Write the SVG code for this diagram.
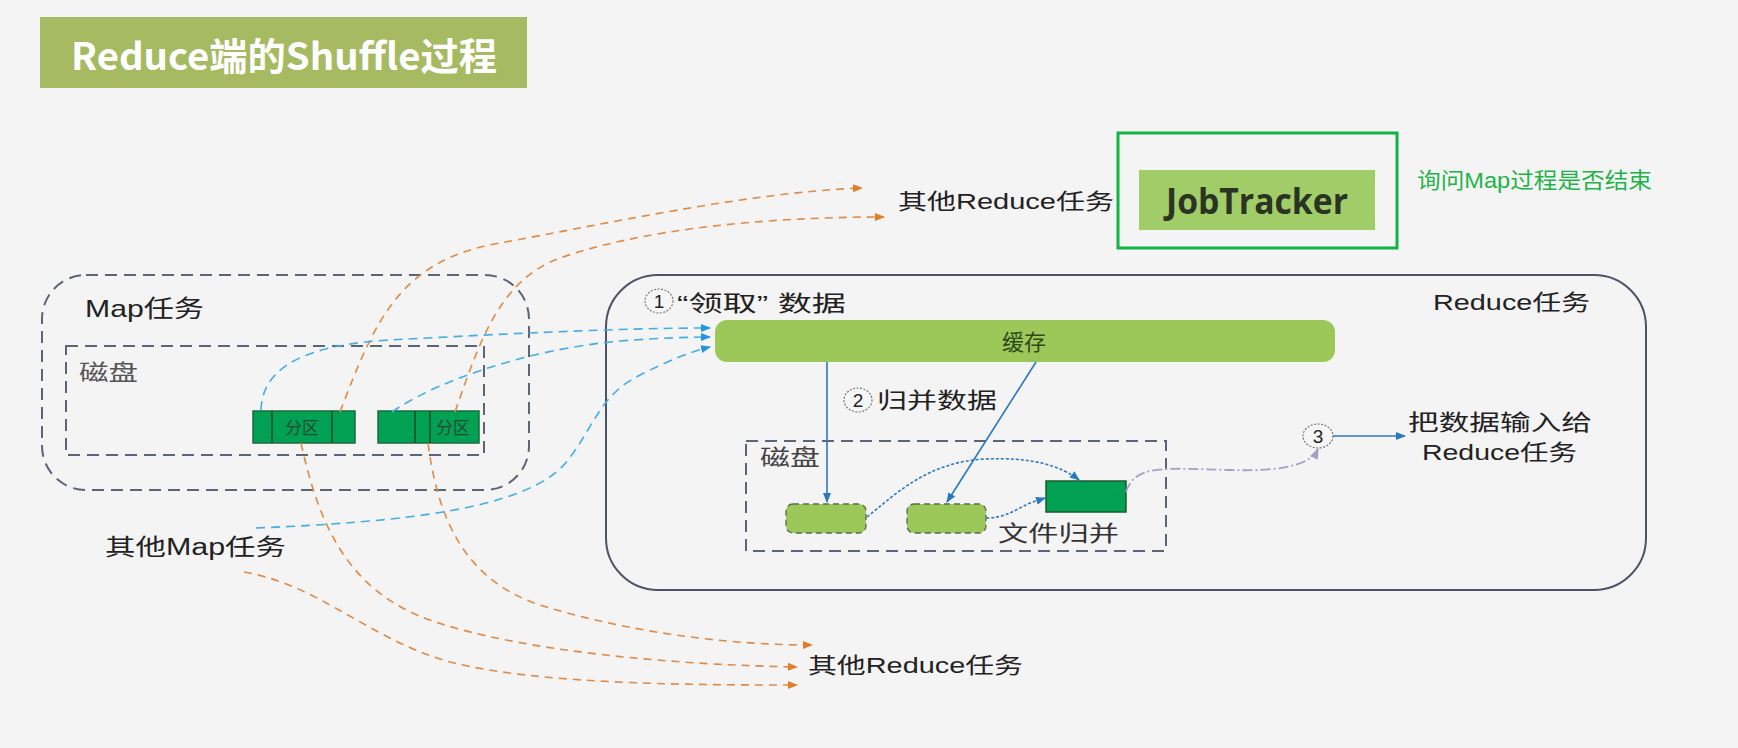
<svg xmlns="http://www.w3.org/2000/svg" width="1738" height="748" viewBox="0 0 1738 748">
<style>
text{font-family:"Liberation Sans","Noto Sans CJK SC",sans-serif;fill:#222;dominant-baseline:central}
.lbl{font-size:22px}
.dash{fill:none;stroke:#5c6478;stroke-width:2;stroke-dasharray:12 7}
.part{fill:#00a152;stroke:#1d6a3c;stroke-width:1.5}
.div{stroke:#1d4a2c;stroke-width:1.5}
.lg{fill:#9cc85a;stroke:#5a6a50;stroke-width:1.3;stroke-dasharray:6 4}
.orange{fill:none;stroke:#e08a45;stroke-width:1.6;stroke-dasharray:8 6}
.blue{fill:none;stroke:#42aee6;stroke-width:1.6;stroke-dasharray:9 6}
.solid{fill:none;stroke:#2a78c2;stroke-width:1.6}
.dot{fill:none;stroke:#2a78c2;stroke-width:1.6;stroke-dasharray:3 2}
.lav{fill:none;stroke:#a89ec8;stroke-width:1.8;stroke-dasharray:10 3 2 3}
.num{fill:#f6f6f6;stroke:#777;stroke-width:1.2;stroke-dasharray:2 1.5}
.numt{font-size:19px;text-anchor:middle}
</style>
<defs>
<marker id="ao" viewBox="0 0 10 10" refX="9" refY="5" markerWidth="10" markerHeight="10" markerUnits="userSpaceOnUse" orient="auto"><path d="M0,1 L10,5 L0,9 z" fill="#e07f2a"/></marker>
<marker id="ab" viewBox="0 0 10 10" refX="9" refY="5" markerWidth="10" markerHeight="10" markerUnits="userSpaceOnUse" orient="auto"><path d="M0,1 L10,5 L0,9 z" fill="#2196e0"/></marker>
<marker id="as" viewBox="0 0 10 10" refX="9" refY="5" markerWidth="10" markerHeight="10" markerUnits="userSpaceOnUse" orient="auto"><path d="M0,1 L10,5 L0,9 z" fill="#2a78c2"/></marker>
<marker id="al" viewBox="0 0 10 10" refX="9" refY="5" markerWidth="11" markerHeight="11" markerUnits="userSpaceOnUse" orient="auto"><path d="M0,1 L10,5 L0,9 z" fill="#a89ec8"/></marker>
</defs>
<rect width="1738" height="748" fill="#f4f4f4"/>

<g id="title">
<rect x="40" y="17" width="487" height="71" fill="#a5ba61"/>
<text x="284" y="53" text-anchor="middle" textLength="426" lengthAdjust="spacingAndGlyphs" style="font-family:'Noto Sans CJK SC','Open Sans',sans-serif;font-weight:bold;font-size:38px;fill:#fff">Reduce端的Shuffle过程</text>
</g>

<g id="jobtracker">
<rect x="1118" y="133" width="279" height="115" fill="none" stroke="#14b243" stroke-width="3"/>
<rect x="1139" y="170" width="236" height="60" fill="#a1cd68"/>
<text x="1257" y="200" text-anchor="middle" textLength="182" lengthAdjust="spacingAndGlyphs" style="font-family:'Open Sans',sans-serif;font-weight:bold;font-size:36px;fill:#2b3322">JobTracker</text>
</g>
<g id="ask-label"><text class="lbl" x="1417" y="180" textLength="235" lengthAdjust="spacingAndGlyphs" style="fill:#1fb34a">询问Map过程是否结束</text></g>

<g id="other-reduce-top"><text class="lbl" x="898" y="201" textLength="216" lengthAdjust="spacingAndGlyphs">其他Reduce任务</text></g>

<g id="map-task">
<rect x="42" y="275" width="487" height="215" rx="44" ry="44" class="dash"/>
<text x="85" y="308" textLength="119" lengthAdjust="spacingAndGlyphs" style="font-size:24px">Map任务</text>
<rect x="66" y="346" width="418" height="109" class="dash"/>
<text class="lbl" x="79" y="372" textLength="59" lengthAdjust="spacingAndGlyphs" style="fill:#555">磁盘</text>
</g>
<g id="partition-1">
<rect x="253" y="411" width="102" height="32" class="part"/>
<line x1="272" y1="411" x2="272" y2="443" class="div"/>
<line x1="332" y1="411" x2="332" y2="443" class="div"/>
<text x="302" y="428" text-anchor="middle" style="font-size:17px;fill:#2a4a30">分区</text>
</g>
<g id="partition-2">
<rect x="378" y="411" width="101" height="32" class="part"/>
<line x1="415" y1="411" x2="415" y2="443" class="div"/>
<line x1="430" y1="411" x2="430" y2="443" class="div"/>
<text x="453" y="428" text-anchor="middle" style="font-size:17px;fill:#2a4a30">分区</text>
</g>
<g id="other-map"><text x="105" y="547" textLength="181" lengthAdjust="spacingAndGlyphs" style="font-size:23px">其他Map任务</text></g>
<g id="other-reduce-bottom"><text class="lbl" x="808" y="665" textLength="215" lengthAdjust="spacingAndGlyphs">其他Reduce任务</text></g>

<g id="reduce-task">
<rect x="606" y="275" width="1040" height="315" rx="52" ry="52" fill="none" stroke="#4c5366" stroke-width="2"/>
<text class="lbl" x="1433" y="302" textLength="157" lengthAdjust="spacingAndGlyphs">Reduce任务</text>
<ellipse cx="659" cy="301" rx="14" ry="12" class="num"/>
<text class="numt" x="659" y="301">1</text>
<text class="lbl" x="677" y="303" textLength="169" lengthAdjust="spacingAndGlyphs">“领取” 数据</text>
</g>
<g id="cache">
<rect x="715" y="320" width="620" height="42" rx="12" ry="12" fill="#9cc85a"/>
<text class="lbl" x="1024" y="342" text-anchor="middle" style="fill:#2e4a1c">缓存</text>
</g>
<g id="merge-label">
<ellipse cx="858" cy="400" rx="14" ry="12" class="num"/>
<text class="numt" x="858" y="400">2</text>
<text class="lbl" x="877" y="400" textLength="120" lengthAdjust="spacingAndGlyphs">归并数据</text>
</g>
<g id="reduce-disk">
<rect x="746" y="441" width="420" height="110" class="dash"/>
<text class="lbl" x="760" y="457" textLength="60" lengthAdjust="spacingAndGlyphs" style="fill:#444">磁盘</text>
</g>
<g id="spill-a"><rect x="786" y="504" width="80" height="29" rx="7" ry="7" class="lg"/></g>
<g id="spill-b"><rect x="907" y="504" width="79" height="29" rx="7" ry="7" class="lg"/></g>
<g id="merged-file">
<rect x="1046" y="481" width="80" height="31" fill="#00a152" stroke="#1a5a30" stroke-width="1.5"/>
<text class="lbl" x="998" y="533" textLength="121" lengthAdjust="spacingAndGlyphs" style="fill:#333">文件归并</text>
</g>
<g id="step3">
<ellipse cx="1318" cy="436" rx="15" ry="12" class="num"/>
<text class="numt" x="1318" y="436">3</text>
</g>
<g id="input-label">
<text class="lbl" x="1408" y="422" textLength="184" lengthAdjust="spacingAndGlyphs">把数据输入给</text>
<text class="lbl" x="1422" y="452" textLength="155" lengthAdjust="spacingAndGlyphs">Reduce任务</text>
</g>

<g id="connectors">
<path class="orange" marker-end="url(#ao)" d="M340,412 C375,320 400,260 500,243 C600,225 750,192 862,188"/>
<path class="orange" marker-end="url(#ao)" d="M455,412 C480,340 500,280 560,258 C640,230 760,217 884,217"/>
<path class="orange" marker-end="url(#ao)" d="M301,443 C318,520 345,590 430,620 C520,652 680,665 797,667"/>
<path class="orange" marker-end="url(#ao)" d="M428,443 C438,520 465,580 540,605 C620,630 720,645 812,645"/>
<path class="orange" marker-end="url(#ao)" d="M244,572 C320,585 370,640 450,662 C540,685 700,685 797,685"/>
<path class="blue" marker-end="url(#ab)" d="M261,410 C262,370 300,345 390,340 C500,334 620,328 710,328"/>
<path class="blue" marker-end="url(#ab)" d="M392,412 C430,385 520,350 620,341 C660,338 690,337 710,337"/>
<path class="blue" marker-end="url(#ab)" d="M256,528 C400,522 530,510 568,460 C595,425 600,395 640,375 C670,360 690,352 710,347"/>
<path class="solid" marker-end="url(#as)" d="M827,362 L827,502"/>
<path class="solid" marker-end="url(#as)" d="M1036,362 L947,502"/>
<path class="dot" marker-end="url(#as)" d="M867,517 C900,490 930,462 985,459 C1030,457 1060,465 1079,480"/>
<path class="dot" marker-end="url(#as)" d="M986,518 C1005,518 1015,510 1030,503 L1045,498"/>
<path class="lav" marker-end="url(#al)" d="M1126,492 C1135,465 1160,468 1230,470 C1290,472 1312,462 1318,449"/>
<path class="solid" marker-end="url(#as)" d="M1333,436 L1405,436"/>
</g>
</svg>
